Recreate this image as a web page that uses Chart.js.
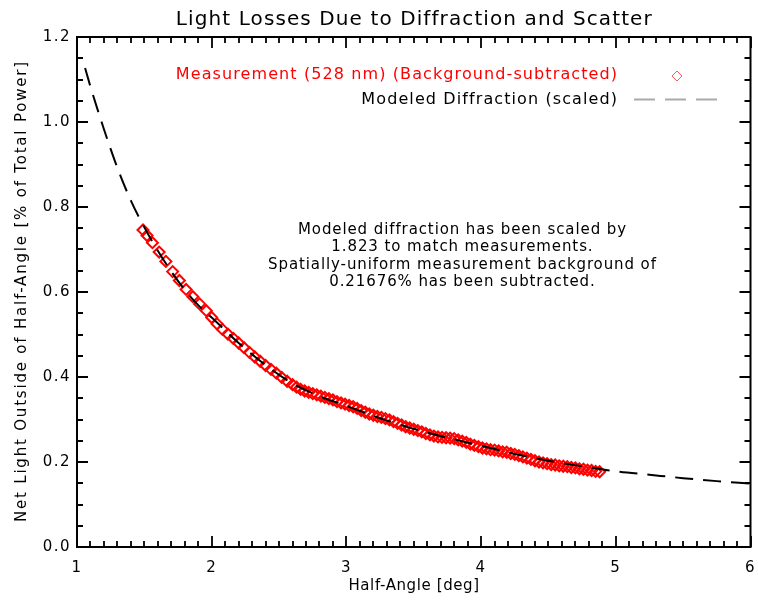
<!DOCTYPE html>
<html>
<head>
<meta charset="utf-8">
<script src="https://cdn.jsdelivr.net/npm/chart.js@4/dist/chart.umd.min.js"></script>
<style>
  html, body { margin: 0; padding: 0; background: #fff; }
  #wrap { width: 758px; height: 604px; }
</style>
</head>
<body>
<div id="wrap"><canvas id="grafico"></canvas></div>
<script>
/* Light losses: measured points vs scaled diffraction model */

const FONTE = "'DejaVu Sans', sans-serif";
const COR_MEDIDA = "rgb(255,0,0)";
const COR_MODELO = "rgb(0,0,0)";

// measurement (528 nm), background-subtracted
const anguloMedido = [
  1.49, 1.52, 1.56, 1.61, 1.66, 1.71, 1.76, 1.81, 1.86, 1.91, 1.96, 2.00,
  2.04, 2.08, 2.12, 2.16, 2.20, 2.24, 2.28, 2.32, 2.36, 2.40, 2.44, 2.48,
  2.52, 2.56, 2.60, 2.63, 2.66, 2.69, 2.72, 2.75, 2.78, 2.81, 2.84, 2.87,
  2.90, 2.93, 2.96, 2.99, 3.02, 3.05, 3.08, 3.11, 3.14, 3.17, 3.20, 3.23,
  3.26, 3.29, 3.32, 3.35, 3.38, 3.41, 3.44, 3.47, 3.50, 3.53, 3.56, 3.59,
  3.62, 3.65, 3.68, 3.71, 3.74, 3.77, 3.80, 3.83, 3.86, 3.89, 3.92, 3.95,
  3.98, 4.01, 4.04, 4.07, 4.10, 4.13, 4.16, 4.19, 4.22, 4.25, 4.28, 4.31,
  4.34, 4.37, 4.40, 4.43, 4.46, 4.49, 4.52, 4.55, 4.58, 4.61, 4.64, 4.67,
  4.70, 4.73, 4.76, 4.79, 4.82, 4.85, 4.88
];
const perdaMedida = [
  0.746, 0.733, 0.716, 0.694, 0.672, 0.648, 0.627, 0.606, 0.589, 0.572, 0.556, 0.540,
  0.525, 0.512, 0.501, 0.491, 0.480, 0.469, 0.458, 0.447, 0.437, 0.427, 0.418, 0.409,
  0.399, 0.390, 0.382, 0.376, 0.371, 0.367, 0.364, 0.361, 0.358, 0.355, 0.352, 0.349,
  0.346, 0.342, 0.339, 0.336, 0.333, 0.330, 0.326, 0.321, 0.317, 0.313, 0.310, 0.307,
  0.305, 0.302, 0.299, 0.295, 0.291, 0.287, 0.283, 0.280, 0.277, 0.274, 0.271, 0.267,
  0.264, 0.261, 0.259, 0.258, 0.257, 0.256, 0.255, 0.252, 0.249, 0.246, 0.242, 0.239,
  0.236, 0.233, 0.231, 0.229, 0.228, 0.226, 0.224, 0.223, 0.220, 0.218, 0.215, 0.212,
  0.209, 0.206, 0.203, 0.200, 0.198, 0.196, 0.194, 0.193, 0.191, 0.190, 0.189, 0.187,
  0.186, 0.184, 0.183, 0.181, 0.180, 0.178, 0.177
];

// modeled diffraction (scaled by 1.823)
const anguloModelo = [
  1.06, 1.10, 1.15, 1.20, 1.25, 1.30, 1.40, 1.50, 1.60, 1.70, 1.80, 1.90,
  2.00, 2.20, 2.40, 2.60, 2.80, 3.00, 3.25, 3.50, 3.75, 4.00, 4.25, 4.50,
  4.75, 5.00, 5.25, 5.50, 5.75, 6.00
];
const perdaModelo = [
  1.127, 1.083, 1.032, 0.983, 0.936, 0.892, 0.815, 0.752, 0.697, 0.648, 0.605, 0.569,
  0.540, 0.480, 0.428, 0.385, 0.355, 0.332, 0.303, 0.278, 0.257, 0.238, 0.219, 0.203,
  0.190, 0.178, 0.170, 0.162, 0.155, 0.149
];

const ticksX = [1, 2, 3, 4, 5, 6];
const ticksY = [0.0, 0.2, 0.4, 0.6, 0.8, 1.0, 1.2];

const titulo = "Light Losses Due to Diffraction and Scatter";
const tituloX = "Half-Angle [deg]";
const tituloY = "Net Light Outside of Half-Angle [% of Total Power]";
const textoLegenda = ["Measurement (528 nm) (Background-subtracted)", "Modeled Diffraction (scaled)"];
const textoNota = [
  "Modeled diffraction has been scaled by",
  "1.823 to match measurements.",
  "Spatially-uniform measurement background of",
  "0.21676% has been subtracted."
];

function ehMarcado(v, lista) {
  return lista.some(t => Math.abs(t - v) < 1e-6);
}

function texto(ctx, str, x, y, tamanho, espaco, cor, alinhamento) {
  ctx.font = tamanho + "px " + FONTE;
  ctx.letterSpacing = espaco + "px";
  ctx.fillStyle = cor;
  ctx.textAlign = alinhamento;
  ctx.textBaseline = "middle";
  // trailing letter spacing shifts centred/right text, compensate
  const ajuste = alinhamento === "center" ? espaco / 2 : alinhamento === "right" ? espaco : 0;
  ctx.fillText(str, x + ajuste, y);
}

// wider letter spacing for tick labels (the original uses a wide vector font)
const espacoPlugin = {
  id: "espaco",
  beforeDraw(chart) { chart.ctx.letterSpacing = "1.5px"; }
};

// frame, inward ticks on all four sides, titles, legend and note
const molduraPlugin = {
  id: "moldura",
  afterDraw(chart) {
    const { ctx, chartArea: a, scales } = chart;
    ctx.save();
    ctx.strokeStyle = "#000";
    ctx.lineWidth = 1.8;
    ctx.beginPath();
    for (const t of scales.x.ticks) {
      const px = Math.round(scales.x.getPixelForValue(t.value));
      const len = ehMarcado(t.value, ticksX) ? 11 : 6;
      ctx.moveTo(px, a.bottom); ctx.lineTo(px, a.bottom - len);
      ctx.moveTo(px, a.top); ctx.lineTo(px, a.top + len);
    }
    for (const t of scales.y.ticks) {
      const py = Math.round(scales.y.getPixelForValue(t.value));
      const len = ehMarcado(t.value, ticksY) ? 11 : 6;
      ctx.moveTo(a.left, py); ctx.lineTo(a.left + len, py);
      ctx.moveTo(a.right, py); ctx.lineTo(a.right - len, py);
    }
    ctx.stroke();
    ctx.lineWidth = 2;
    ctx.strokeRect(a.left, a.top, a.right - a.left, a.bottom - a.top);

    const cx = (a.left + a.right) / 2;
    texto(ctx, titulo, cx, 20, 20, 1.1, "#000", "center");
    texto(ctx, tituloX, cx, 586, 15, 0.6, "#000", "center");
    ctx.save();
    ctx.translate(22, (a.top + a.bottom) / 2);
    ctx.rotate(-Math.PI / 2);
    texto(ctx, tituloY, 0, 0, 15, 1.8, "#000", "center");
    ctx.restore();

    // legend
    texto(ctx, textoLegenda[0], 617, 75, 16, 1.1, COR_MEDIDA, "right");
    texto(ctx, textoLegenda[1], 617, 100, 16, 1.1, "#000", "right");
    ctx.fillStyle = "rgba(0,0,0,0)";
    ctx.strokeStyle = "rgb(255,90,90)";
    ctx.lineWidth = 1;
    Chart.helpers.drawPoint(ctx, { pointStyle: "rectRot", radius: 5, borderWidth: 1, rotation: 0 }, 677, 76);
    ctx.strokeStyle = "#aaa";
    ctx.lineWidth = 2;
    ctx.setLineDash([21, 10]);
    ctx.beginPath();
    ctx.moveTo(634, 99.5); ctx.lineTo(720, 99.5);
    ctx.stroke();
    ctx.setLineDash([]);

    // note
    textoNota.forEach((linha, i) => texto(ctx, linha, 462, 230 + i * 17.5, 15, 0.9, "#000", "center"));
    ctx.restore();
  }
};

const ctx = document.getElementById("grafico").getContext("2d");
new Chart(ctx, {
  type: "scatter",
  data: {
    datasets: [
      {
        label: textoLegenda[1],
        data: anguloModelo.map((x, i) => ({ x, y: perdaModelo[i] })),
        showLine: true,
        borderColor: COR_MODELO,
        borderWidth: 2,
        borderDash: [18, 10],
        pointRadius: 0,
        cubicInterpolationMode: "monotone",
      },
      {
        label: textoLegenda[0],
        data: anguloMedido.map((x, i) => ({ x, y: perdaMedida[i] })),
        showLine: false,
        pointStyle: "rectRot",
        pointRadius: 5.5,
        pointBorderWidth: 2,
        pointBorderColor: COR_MEDIDA,
        pointBackgroundColor: "rgba(0,0,0,0)",
      }
    ]
  },
  options: {
    responsive: true,
    maintainAspectRatio: false,
    animation: false,
    events: [],
    layout: { padding: { left: 0, right: 4, top: 37, bottom: 0 } },
    plugins: {
      legend: { display: false },
      tooltip: { enabled: false },
      title: { display: false }
    },
    scales: {
      x: {
        type: "linear",
        min: 1, max: 6,
        grid: { display: false, drawTicks: false },
        border: { display: false },
        ticks: {
          stepSize: 0.1,
          autoSkip: false,
          maxRotation: 0,
          padding: 12,
          color: "#000",
          font: { family: FONTE, size: 15 },
          callback: v => ehMarcado(v, ticksX) ? String(Math.round(v)) : "",
        },
        afterFit: s => { s.height = 57; s.paddingLeft = 0; s.paddingRight = 0; },
      },
      y: {
        type: "linear",
        min: 0, max: 1.2,
        grid: { display: false, drawTicks: false },
        border: { display: false },
        ticks: {
          stepSize: 0.05,
          autoSkip: false,
          padding: 6,
          color: "#000",
          font: { family: FONTE, size: 15 },
          callback: v => ehMarcado(v, ticksY) ? v.toFixed(1) : "",
        },
        afterFit: s => { s.width = 77; s.paddingTop = 0; s.paddingBottom = 0; },
      }
    }
  },
  plugins: [espacoPlugin, molduraPlugin]
});
</script>
</body>
</html>
